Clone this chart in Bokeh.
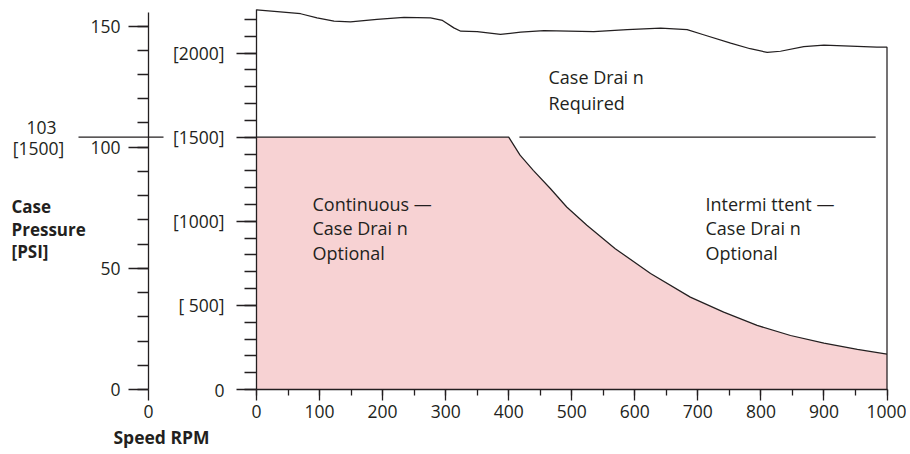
from bokeh.plotting import figure
from bokeh.models import Range1d, LinearAxis, SingleIntervalTicker, FixedTicker
from bokeh.core.properties import value
from bokeh.embed import file_html
from bokeh.resources import INLINE

# ---------------- data ----------------
# upper boundary of the "Case Drain Required" region: speed [rpm] vs pressure [psi]
top_rpm = [0, 33, 70, 96, 123, 149, 191, 234, 276, 295, 313, 324, 350, 387, 419, 456,
           535, 588, 641, 683, 709, 752, 783, 810, 831, 868, 900, 942, 984, 1000]
top_psi = [2257, 2247, 2234, 2210, 2190, 2186, 2200, 2213, 2210, 2194, 2150, 2130, 2128,
           2112, 2124, 2133, 2128, 2140, 2148, 2139, 2109, 2059, 2026, 2004, 2011, 2039,
           2047, 2041, 2035, 2035]

# boundary of the "Continuous - Case Drain Optional" region
cont_rpm = [0, 400, 418, 439, 466, 492, 524, 569, 625, 688, 741, 794, 847, 900, 953, 1000]
cont_psi = [1500, 1500, 1393, 1303, 1195, 1085, 976, 837, 690, 549, 460, 381, 321, 276, 238, 210]

# separate 1500 psi limit line in the intermittent region
limit_rpm = [417, 982]
limit_psi = 1500

# left (case pressure) scale marker
marker_bar = "103"
marker_psi = 1500

main_y_ticks = {0: "0", 500: "[ 500]", 1000: "[1000]", 1500: "[1500]", 2000: "[2000]"}
psi_axis_max = 155.6

region_labels = [
    ["Case Drai n", "Required"],
    ["Continuous \u2014", "Case Drai n", "Optional"],
    ["Intermi ttent \u2014", "Case Drai n", "Optional"],
]
y_title = ["Case", "Pressure", "[PSI]"]
x_title = "Speed RPM"

# ---------------- layout constants (pixels in the page) ----------------
W, H = 906, 452
OX, OY = 0, 0
X0_PX, X_SCALE = 256.0, 0.6305      # page px of rpm 0, px per rpm
Y0_PX, Y_SCALE = 389.0, 0.1682      # page px of 0 psi, px per psi (main)
PSI_SCALE = 2.423                   # px per unit on the left scale
PSI_AXIS_PX = 148.0

INK = "#231f20"
PINK = "#f7d2d3"
FONT = "Open Sans"


def rx(px):
    return (px - X0_PX) / X_SCALE


def qx(px):
    return (px - PSI_AXIS_PX) / X_SCALE


def vy(py):
    return (Y0_PX - py) / Y_SCALE


x_range = Range1d(rx(OX), rx(OX + W))
y_range = Range1d(vy(OY + H), vy(OY))
psi_x = Range1d(qx(OX), qx(OX + W))
psi_y = Range1d((Y0_PX - (OY + H)) / PSI_SCALE, (Y0_PX - OY) / PSI_SCALE)

p = figure(width=W, height=H, x_range=x_range, y_range=y_range,
           x_axis_type=None, y_axis_type=None, min_border=0,
           output_backend="svg", toolbar_location=None)
p.outline_line_color = None
p.background_fill_color = "white"
p.border_fill_color = "white"
p.extra_x_ranges = {"psi_x": psi_x}
p.extra_y_ranges = {"psi": psi_y}

# pink region
p.patch(x=[cont_rpm[0]] + cont_rpm + [cont_rpm[-1]], y=[0] + cont_psi + [0],
        fill_color=PINK, line_color=None)
p.line(cont_rpm, cont_psi, line_color=INK, line_width=1.25)

# upper boundary + right edge
p.line(top_rpm + [top_rpm[-1]], top_psi + [0], line_color=INK, line_width=1.25)

# separate limit line
p.line(limit_rpm, [limit_psi, limit_psi], line_color=INK, line_width=1.25)

# marker line across the left scale
p.line([qx(78), qx(163)], [marker_psi, marker_psi], x_range_name="psi_x",
       line_color=INK, line_width=1.25)


def style_axis(ax, tick_out, minor_out, standoff):
    ax.axis_line_color = INK
    ax.axis_line_width = 1.3
    ax.major_tick_line_color = INK
    ax.major_tick_line_width = 1.3
    ax.minor_tick_line_color = INK
    ax.minor_tick_line_width = 1.3
    ax.major_tick_in = 0
    ax.major_tick_out = tick_out
    ax.minor_tick_in = 0
    ax.minor_tick_out = minor_out
    ax.major_label_standoff = standoff
    ax.major_label_text_font = FONT
    ax.major_label_text_font_size = "17.5px"
    ax.major_label_text_color = INK


# main y axis
main_y = LinearAxis(ticker=SingleIntervalTicker(interval=500, num_minor_ticks=5),
                    fixed_location=0, bounds=(0, top_psi[0]))
style_axis(main_y, 20, 12, 12)
main_y.major_label_overrides = main_y_ticks
p.add_layout(main_y, "left")

# left case-pressure axis
psi_ax = LinearAxis(y_range_name="psi", x_range_name="psi_x",
                    ticker=SingleIntervalTicker(interval=50, num_minor_ticks=5),
                    fixed_location=0, bounds=(0, psi_axis_max))
style_axis(psi_ax, 20, 11, 8)
p.add_layout(psi_ax, "left")

# main x axis
main_x = LinearAxis(ticker=SingleIntervalTicker(interval=100, num_minor_ticks=2),
                    fixed_location=0, bounds=(0, 1000))
style_axis(main_x, 11, 6, 4)
p.add_layout(main_x, "below")

# "0" under the left scale
zero_x = LinearAxis(x_range_name="psi_x", ticker=FixedTicker(ticks=[0], minor_ticks=[]),
                    fixed_location=0)
style_axis(zero_x, 11, 0, 4)
zero_x.axis_line_color = None
p.add_layout(zero_x, "below")

# texts
def add_lines(lines, px_left, py_first, step, align="left", style="normal", size="18px",
              xfun=rx, xrn="default"):
    xs = [xfun(px_left)] * len(lines)
    ys = [vy(py_first + i * step) for i in range(len(lines))]
    p.text(x=xs, y=ys, text=lines, x_range_name=xrn, text_font=value(FONT),
           text_font_size=size, text_font_style=style, text_color=INK,
           text_align=align, text_baseline="middle")


add_lines(region_labels[0], 548, 76, 26)
add_lines(region_labels[1], 312, 203, 24.5)
add_lines(region_labels[2], 705, 203, 24.5)
add_lines([marker_bar], 41, 127, 0, align="center", size="17.5px", xfun=qx, xrn="psi_x")
add_lines(["[1500]"], 38, 147, 0, align="center", size="17.5px", xfun=qx, xrn="psi_x")
add_lines(y_title, 11, 206, 22.5, style="bold", size="17px", xfun=qx, xrn="psi_x")
add_lines([x_title], 161, 436, 0, align="center", style="bold", size="17.5px",
          xfun=qx, xrn="psi_x")

open("out.html", "w").write(file_html(p, INLINE))
